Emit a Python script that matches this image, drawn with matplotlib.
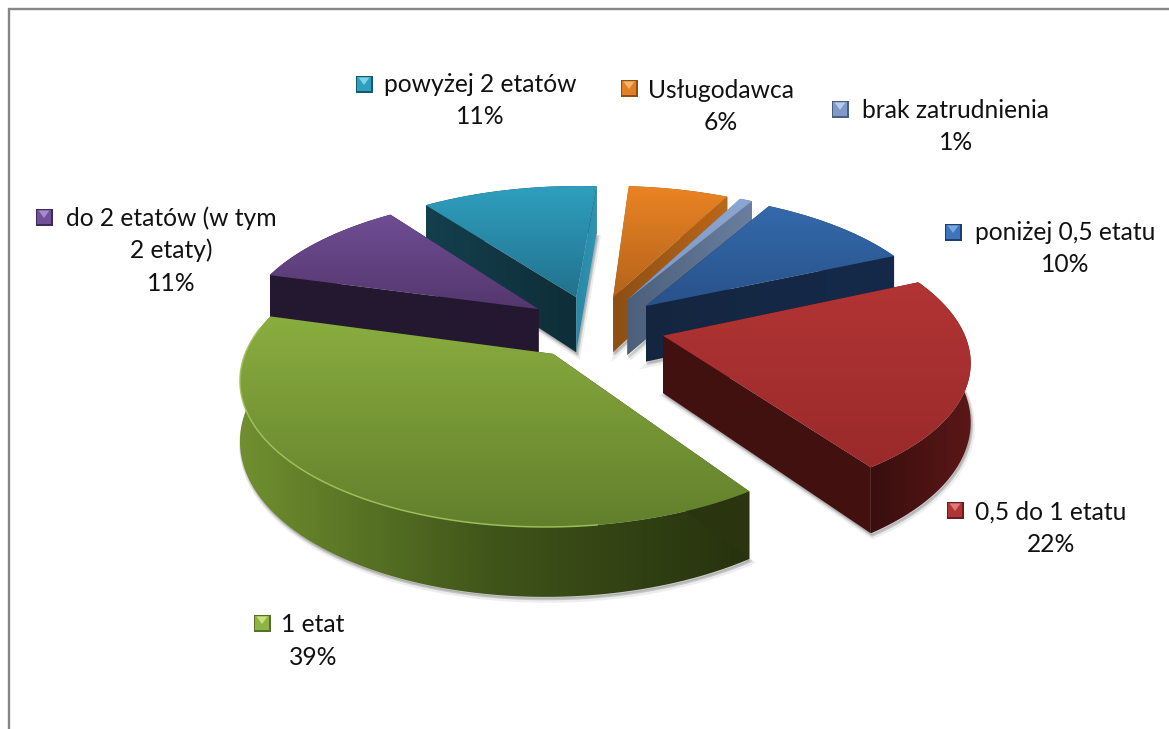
import numpy as np
import matplotlib
matplotlib.use('Agg')
import matplotlib.pyplot as plt
from matplotlib.colors import LinearSegmentedColormap
from matplotlib.patches import Polygon, Rectangle

plt.rcParams['font.family'] = ['Lato', 'DejaVu Sans']

# data, clockwise from the first slice (labels print them rounded)
labels = ['poniżej 0,5 etatu', '0,5 do 1 etatu', '1 etat', 'do 2 etatów (w tym\n2 etaty)',
          'powyżej 2 etatów', 'Usługodawca', 'brak zatrudnienia']
values = [10, 22, 39, 10.6, 11.2, 6.4, 0.8]

# colours: top face (light to dark), radial wall and rim wall (left to right)
top_cols = [('#3469ab', '#28528a'), ('#b23434', '#9a2a2a'), ('#8aad3f', '#62802c'),
            ('#6f4d93', '#54376e'), ('#2f9fbf', '#22728d'), ('#ea8324', '#b4641a'),
            ('#8ba6d2', '#7f98c2')]
wall_cols = [('#14263f', '#15294a'), ('#40110f', '#43120f'), ('#2a3510', '#2a3510'),
             ('#241730', '#241730'), ('#143f4d', '#0e2e38'), ('#8d4f14', '#ba671a'),
             ('#4c5f7b', '#6a7f9f')]
rim_cols = [('#14263f', '#1a3050'), ('#3a0e0e', '#5a1717'), ('#6f8e2f', '#3f5419', '#27320e'),
            ('#241730', '#241730'), ('#143f4d', '#143f4d'), ('#8d4f14', '#8d4f14'),
            ('#4c5f7b', '#6a7f9f')]
end_wall_override = {4: ('#2a88a6', '#2f94b4')}
key_cols = [('#1f3f6b', '#3d74bb', '#7ba7e0'), ('#6a1e1e', '#b03535', '#e07a7a'),
            ('#55702a', '#8fb344', '#c9e27c'), ('#3f2a58', '#70509a', '#a68acb'),
            ('#155a70', '#2f9fbf', '#7cd3ea'), ('#8d4f14', '#e07f24', '#f7b56d'),
            ('#4a5f80', '#7f9ac8', '#b9cbe8')]

# geometry of the 3d pie, in pixels
cx, cy = 595, 327
R = 299
explode = 70
squash = 0.458
persp = 0.155
depth = 57
start = 30

# label layout: centre x, y of first line
label_pos = [(1065, 232), (1051, 512), (313, 625), (171, 218), (480, 84), (721, 90), (956, 110)]
key_pos = [(953, 232), (955, 510), (262, 623), (44, 217), (364, 84), (629, 88), (840, 109)]
line_gap = 32.5
draw_order = [4, 5, 6, 0, 3, 1, 2]

z = [1]


def next_z():
    z[0] += 1
    return z[0]


def project(x, y, down=0):
    f = 1 / (1 - persp * y / R)
    return cx + x * f, cy + (y * squash + down) * f


def grad_fill(ax, pts, cols, vertical=True):
    pts = np.array(pts)
    cmap = LinearSegmentedColormap.from_list('g', list(cols))
    g = np.linspace(0, 1, 64)
    g = g.reshape(-1, 1) if vertical else g.reshape(1, -1)
    x0, x1 = pts[:, 0].min(), pts[:, 0].max()
    y0, y1 = pts[:, 1].min(), pts[:, 1].max()
    im = ax.imshow(g, cmap=cmap, extent=(x0, x1, y1, y0), aspect='auto', origin='upper',
                   interpolation='bilinear', zorder=next_z())
    clip = Polygon(pts, closed=True, transform=ax.transData, fc='none', ec='none')
    im.set_clip_path(clip)


def radial_wall(apex, t):
    ax_, ay_ = apex
    a = project(ax_, ay_)
    b = project(ax_ + R * np.sin(t), ay_ - R * np.cos(t))
    c = project(ax_ + R * np.sin(t), ay_ - R * np.cos(t), depth)
    d = project(ax_, ay_, depth)
    return [a, b, c, d]


def draw_slice(ax, i, t0, t1):
    mid = (t0 + t1) / 2
    apex = (explode * np.sin(mid), -explode * np.cos(mid))
    ts = np.linspace(t0, t1, 80)
    xs = apex[0] + R * np.sin(ts)
    ys = apex[1] - R * np.cos(ts)
    rim_top = [project(x, y) for x, y in zip(xs, ys)]
    rim_bot = [project(x, y, depth) for x, y in zip(xs, ys)]

    # soft shadow under the slice
    base = [project(*apex, depth)] + rim_bot
    for off, a in [(3.5, 0.10), (2, 0.18)]:
        ax.add_patch(Polygon(np.array(base) + [off * 0.5, off], closed=True, fc='#555555',
                             ec='#555555', lw=off, alpha=a, zorder=next_z()))

    grad_fill(ax, rim_top + rim_bot[::-1], rim_cols[i], vertical=False)
    grad_fill(ax, radial_wall(apex, t0), wall_cols[i], vertical=False)
    grad_fill(ax, radial_wall(apex, t1), end_wall_override.get(i, wall_cols[i]), vertical=False)
    grad_fill(ax, [project(*apex)] + rim_top, top_cols[i])
    # light bevel along the front left edge of the big slice
    if i == 2:
        front = np.array([p for p, t in zip(rim_top, ts) if np.cos(t) < 0.2 and np.sin(t) < 0.15])
        ax.plot(front[:, 0], front[:, 1], color='#a3c45c', lw=1.1, alpha=0.9, zorder=next_z())


def draw_key(ax, i):
    x, y = key_pos[i]
    s = 8.5
    dark, mid, light = key_cols[i]
    zk = next_z()
    ax.add_patch(Rectangle((x - s, y - s), 2 * s, 2 * s, fc=dark, ec='none', zorder=zk))
    ax.add_patch(Rectangle((x - s + 1.5, y - s + 1.5), 2 * s - 3, 2 * s - 3, fc=mid, ec='none', zorder=zk))
    ax.add_patch(Polygon([(x - s + 3, y - s + 2), (x + s - 3, y - s + 2), (x, y + 1)],
                         closed=True, fc=light, ec='none', zorder=zk))


def main():
    fig = plt.figure(figsize=(11.69, 7.29), dpi=100)
    ax = fig.add_axes([0, 0, 1, 1])

    angles = np.radians(start + np.concatenate([[0], np.cumsum(values)]) * 3.6)
    for i in draw_order:
        draw_slice(ax, i, angles[i], angles[i + 1])

    # chart area border, only the top and left show in the crop
    ax.plot([9, 9, 1169], [729, 9, 9], color='#868686', lw=1.7, solid_joinstyle='miter',
            zorder=next_z())

    for i, lab in enumerate(labels):
        x, y = label_pos[i]
        lines = lab.split('\n') + ['%.0f%%' % values[i]]
        for j, line in enumerate(lines):
            ax.text(x, y + j * line_gap, line, ha='center', va='center',
                    fontsize=17.7, color='#111111', zorder=500)
        draw_key(ax, i)

    ax.set_xlim(0, 1169)
    ax.set_ylim(729, 0)
    ax.axis('off')
    fig.savefig('out.png', dpi=100)


if __name__ == '__main__':
    main()
